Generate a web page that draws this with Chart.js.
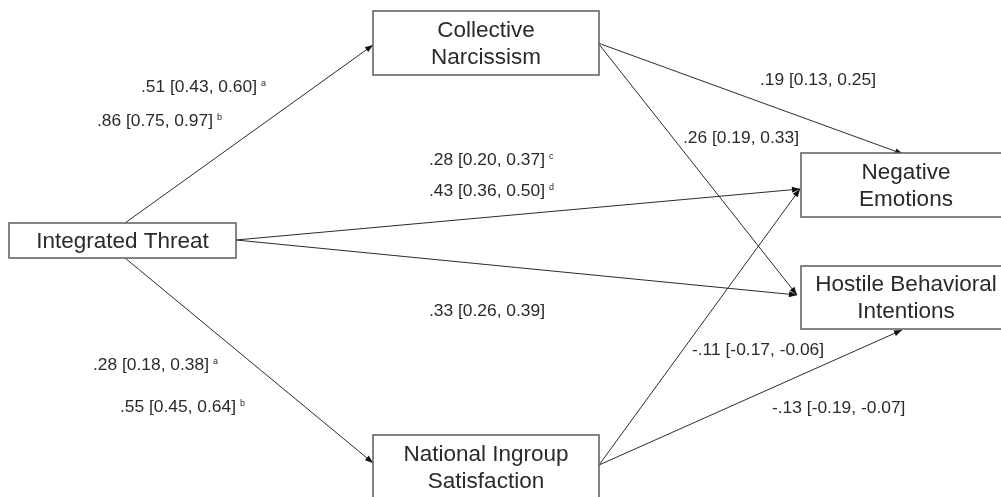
<!DOCTYPE html>
<html>
<head>
<meta charset="utf-8">
<script src="https://cdn.jsdelivr.net/npm/chart.js@4"></script>
<style>
  body { margin: 0; background: #fff; }
  #wrap { width: 1001px; height: 497px; position: relative; }
</style>
</head>
<body>
<div id="wrap"><canvas id="path-chart"></canvas></div>
<script>
// variables in the model
const nodeNames = ['IT', 'CN', 'NIS', 'NE', 'HBI']
const nodeText = [
  ['Integrated Threat'],
  ['Collective', 'Narcissism'],
  ['National Ingroup', 'Satisfaction'],
  ['Negative', 'Emotions'],
  ['Hostile Behavioral', 'Intentions']
]

// paths (from -> to)
const pathFrom = ['IT', 'IT', 'IT', 'IT', 'CN', 'CN', 'NIS', 'NIS']
const pathTo   = ['CN', 'NIS', 'NE', 'HBI', 'NE', 'HBI', 'NE', 'HBI']

// coefficient labels with their superscript notes
const coefText = [
  '.51 [0.43, 0.60]', '.86 [0.75, 0.97]',
  '.28 [0.20, 0.37]', '.43 [0.36, 0.50]',
  '.19 [0.13, 0.25]', '.26 [0.19, 0.33]',
  '.33 [0.26, 0.39]',
  '.28 [0.18, 0.38]', '.55 [0.45, 0.64]',
  '-.11 [-0.17, -0.06]', '-.13 [-0.19, -0.07]'
]
const coefNote = ['a', 'b', 'c', 'd', '', '', '', 'a', 'b', '', '']

// layout, in axis units (x 0..1001, y 0..497 top-down)
const boxes = {
  IT:  [9, 223, 236, 258],
  CN:  [373, 11, 599, 75],
  NIS: [373, 435, 599, 500],
  NE:  [801, 153, 1011, 217],
  HBI: [801, 266, 1011, 329]
}
const pathStart = [[125, 223], [125, 258], [236, 240], [236, 240], [598, 43], [598, 43], [599, 465], [599, 465]]
const pathEnd   = [[373, 45], [373, 463], [800, 189], [797, 295], [903, 154], [797, 295], [800, 189], [902, 330]]
const coefPos = [
  [141, 87], [97, 121], [429, 160], [429, 191], [760, 80], [683, 138],
  [429, 311], [93, 365], [120, 407], [692, 350], [772, 408]
]

const FONT = '"Liberation Sans", Arial, sans-serif'

const datasets = pathFrom.map((f, i) => ({
  label: f + '->' + pathTo[i],
  data: [
    { x: pathStart[i][0], y: pathStart[i][1] },
    { x: pathEnd[i][0], y: pathEnd[i][1] }
  ],
  showLine: true,
  borderColor: '#2b2b2b',
  borderWidth: 1,
  pointRadius: 0
}))

const diagramPlugin = {
  id: 'diagram',
  afterDatasetsDraw(chart) {
    const { ctx, scales: { x, y } } = chart
    ctx.save()

    // arrow heads
    chart.data.datasets.forEach((ds, i) => {
      const pts = chart.getDatasetMeta(i).data
      const a = pts[0], b = pts[1]
      const ang = Math.atan2(b.y - a.y, b.x - a.x)
      const len = 8, half = 3
      ctx.fillStyle = '#111'
      ctx.beginPath()
      ctx.moveTo(b.x, b.y)
      ctx.lineTo(b.x - len * Math.cos(ang) + half * Math.sin(ang), b.y - len * Math.sin(ang) - half * Math.cos(ang))
      ctx.lineTo(b.x - len * Math.cos(ang) - half * Math.sin(ang), b.y - len * Math.sin(ang) + half * Math.cos(ang))
      ctx.closePath()
      ctx.fill()
    })

    // boxes
    nodeNames.forEach((n, i) => {
      const [x0, y0, x1, y1] = boxes[n]
      const px0 = x.getPixelForValue(x0), px1 = x.getPixelForValue(x1)
      const py0 = y.getPixelForValue(y0), py1 = y.getPixelForValue(y1)
      ctx.fillStyle = '#fff'
      ctx.fillRect(px0, py0, px1 - px0, py1 - py0)
      ctx.strokeStyle = '#666'
      ctx.lineWidth = 1.6
      ctx.strokeRect(px0, py0, px1 - px0, py1 - py0)

      const lines = nodeText[i]
      const cx = (px0 + px1) / 2, cy = (py0 + py1) / 2
      const lh = 27
      ctx.fillStyle = '#2a2a2a'
      ctx.font = '22.5px ' + FONT
      ctx.textAlign = 'center'
      ctx.textBaseline = 'middle'
      lines.forEach((t, k) => {
        ctx.fillText(t, cx, cy + (k - (lines.length - 1) / 2) * lh + 1)
      })
    })

    // coefficient labels
    coefText.forEach((t, i) => {
      const px = x.getPixelForValue(coefPos[i][0])
      const py = y.getPixelForValue(coefPos[i][1])
      ctx.fillStyle = '#2a2a2a'
      ctx.font = '17.4px ' + FONT
      ctx.textAlign = 'left'
      ctx.textBaseline = 'middle'
      ctx.fillText(t, px, py)
      if (coefNote[i]) {
        const w = ctx.measureText(t).width
        ctx.font = '9px ' + FONT
        ctx.fillText(coefNote[i], px + w + 4, py - 3)
      }
    })

    ctx.restore()
  }
}

const ctx = document.getElementById('path-chart')

const pathChart = new Chart(ctx, {
  type: 'scatter',
  data: { datasets },
  options: {
    responsive: true,
    maintainAspectRatio: false,
    animation: false,
    layout: { padding: 0 },
    scales: {
      x: { type: 'linear', min: 0, max: 1001, display: false },
      y: { type: 'linear', min: 0, max: 497, reverse: true, display: false }
    },
    plugins: {
      legend: { display: false },
      tooltip: { enabled: false }
    }
  },
  plugins: [diagramPlugin]
})
</script>
</body>
</html>
